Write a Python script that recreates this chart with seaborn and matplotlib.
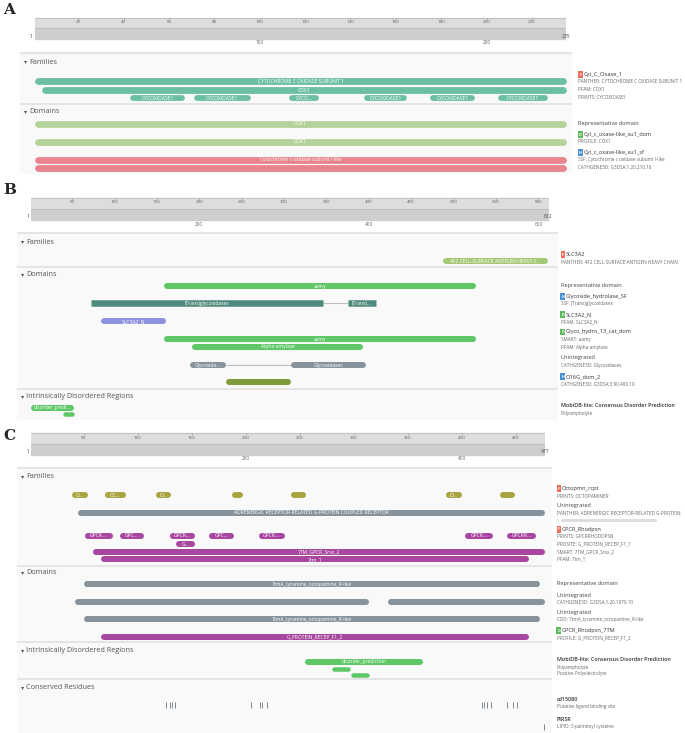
import matplotlib
matplotlib.use("Agg")
import matplotlib.pyplot as plt
from matplotlib.patches import Rectangle
import seaborn as sns

# ---------------- data ----------------
# panel A: 235 aa protein
a_length = 235
a_ruler_top = list(range(20, 221, 20))
a_ruler_bottom = [100, 200]
a_panther = [(1, 235, "CYTOCHROME C OXIDASE SUBUNIT 1")]
a_pfam = [(4, 235, "COX1")]
a_prints = [(43, 67, "CYCOXIDASE1"), (71, 96, "CYCOXIDASE1"), (113, 126, "CYCO..."),
            (146, 165, "CYCOXIDASE1"), (175, 195, "CYCOXIDASE1"), (205, 227, "CYCOXIDASE1")]
a_rep = [(1, 235, "COX1")]
a_profile = [(1, 235, "COX1")]
a_ssf = [(1, 235, "Cytochrome c oxidase subunit I-like")]
a_cath = [(1, 235, "")]
a_legend = [("F", "Cyt_C_Oxase_1"), ("", "PANTHER: CYTOCHROME C OXIDASE SUBUNIT 1"),
            ("", "PFAM: COX1"), ("", "PRINTS: CYCOXIDASEI"),
            ("T", "Representative domain"),
            ("D", "Cyt_c_oxase-like_su1_dom"), ("", "PROFILE: COX1"),
            ("H", "Cyt_c_oxase-like_su1_sf"), ("", "SSF: Cytochrome c oxidase subunit I-like"),
            ("", "CATHGENE3D: G3DSA:1.20.210.10")]

# panel B: 612 aa protein
b_length = 612
b_ruler_top = list(range(50, 601, 50))
b_ruler_bottom = [200, 400, 600]
b_panther = [(487, 612, "4F2 CELL-SURFACE ANTIGEN HEAVY C...")]
b_rep = [(158, 526, "aamy")]
b_ssf = [(72, 346, "(Trans)glycosidases"), (375, 409, "(Trans)...")]
b_slc = [(84, 161, "SLC3A2_N")]
b_smart = [(158, 526, "aamy")]
b_pfam = [(192, 393, "Alpha-amylase")]
b_cath_glyc = [(189, 231, "Glycosida..."), (308, 397, "Glycosidases")]
b_cath_o16g = [(231, 308, "")]
b_disorder = [(1, 52, "disorder_predi...")]
b_polyampholyte = [(39, 52, "")]
b_legend = [("F", "SLC3A2"), ("", "PANTHER: 4F2 CELL-SURFACE ANTIGEN HEAVY CHAIN"),
            ("T", "Representative domain"),
            ("H", "Glycoside_hydrolase_SF"), ("", "SSF: (Trans)glycosidases"),
            ("D", "SLC3A2_N"), ("", "PFAM: SLC3A2_N"),
            ("D", "Glyco_hydro_13_cat_dom"), ("", "SMART: aamy"), ("", "PFAM: Alpha-amylase"),
            ("T", "Unintegrated"), ("", "CATHGENE3D: Glycosidases"),
            ("H", "O16G_dom_2"), ("", "CATHGENE3D: G3DSA:3.90.400.10"),
            ("B", "MobiDB-lite: Consensus Disorder Prediction"), ("", "Polyampholyte")]

# panel C: 477 aa protein
c_length = 477
c_ruler_top = list(range(50, 451, 50))
c_ruler_bottom = [200, 400]
c_octo = [(39, 54, "O..."), (70, 89, "OC..."), (117, 131, "O..."), (187, 198, ""),
          (242, 256, ""), (385, 400, "O..."), (435, 449, "")]
c_adrenergic = [(45, 477, "ADRENERGIC RECEPTOR-RELATED G-PROTEIN COUPLED RECEPTOR")]
c_gpcr_prints = [(51, 77, "GPCR..."), (84, 106, "GPC..."), (130, 153, "GPCR..."),
                 (166, 189, "GPC..."), (212, 236, "GPCR..."), (403, 429, "GPCR..."),
                 (442, 469, "GPCRR...")]
c_prosite = [(136, 153, "G...")]
c_smart = [(59, 477, "7TM_GPCR_Srsx_2")]
c_pfam = [(66, 462, "7tm_1")]
c_rep = [(50, 472, "7tmA_tyramine_octopamine_R-like")]
c_cath = [(42, 314, ""), (332, 477, "")]
c_cdd = [(50, 472, "7tmA_tyramine_octopamine_R-like")]
c_profile = [(66, 462, "G_PROTEIN_RECEP_F1_2")]
c_disorder = [(255, 364, "disorder_prediction")]
c_polyampholyte = [(280, 297, "")]
c_polyelectrolyte = [(297, 314, "")]
c_ligand_sites = [126, 130, 132, 135, 205, 213, 215, 220, 419, 421, 423, 427, 442, 447, 451]
c_palmitoyl_sites = [476]
c_legend = [("F", "Octopmn_rcpt"), ("", "PRINTS: OCTOPAMINER"),
            ("T", "Unintegrated"), ("", "PANTHER: ADRENERGIC RECEPTOR-RELATED G-PROTEIN"),
            ("F", "GPCR_Rhodpsn"), ("", "PRINTS: GPCRRHODOPSN"), ("", "PROSITE: G_PROTEIN_RECEP_F1_1"),
            ("", "SMART: 7TM_GPCR_Srsx_2"), ("", "PFAM: 7tm_1"),
            ("T", "Representative domain"),
            ("T", "Unintegrated"), ("", "CATHGENE3D: G3DSA:1.20.1070.10"),
            ("T", "Unintegrated"), ("", "CDD: 7tmA_tyramine_octopamine_R-like"),
            ("D", "GPCR_Rhodpsn_7TM"), ("", "PROFILE: G_PROTEIN_RECEP_F1_2"),
            ("B", "MobiDB-lite: Consensus Disorder Prediction"), ("", "Polyampholyte"),
            ("", "Positive Polyelectrolyte"),
            ("B", "cd15080"), ("", "Putative ligand binding site"),
            ("B", "PIRSR"), ("", "LIPID: S-palmitoyl cysteine")]

# ---------------- style ----------------
TEAL = "#6cbfa3"
LGREEN = "#b5d29a"
PINK = "#e9838d"
LOLIVE = "#a5c877"
GREEN = "#5dc865"
DTEAL = "#4e8a7c"
PERI = "#8e92de"
GRAY = "#87939c"
OLIVE = "#7e9d3a"
MUSTARD = "#a8a540"
PURPLE = "#a7479f"
BADGE = {"F": "#ec6c58", "D": "#5cb85c", "H": "#4a90d9"}

W, H = 685, 733
sns.set_theme(style="white")
plt.rcParams["font.family"] = ["Open Sans", "DejaVu Sans"]

fig = plt.figure(figsize=(W / 100, H / 100), dpi=100)
bg = fig.add_axes([0, 0, 1, 1])
bg.set_xlim(0, W)
bg.set_ylim(H, 0)
bg.axis("off")


def add_panel(x0, x1, top, bottom, length):
    ax = fig.add_axes([x0 / W, 1 - bottom / H, (x1 - x0) / W, (bottom - top) / H])
    ax.patch.set_alpha(0)
    ax.axis("off")
    return ax, (length - 1) / (x1 - x0)


def finish(ax, length, top, bottom):
    ax.set_xlim(1, length)
    ax.set_ylim(bottom, top)


def draw_track(ax, scale, y, segs, color, bar_px=6, square=False, link=False):
    lw = bar_px * 72 / 100
    inset = 0 if square else bar_px / 2 * scale
    if link:
        for (s0, e0, _), (s1, e1, _) in zip(segs[:-1], segs[1:]):
            ax.hlines(y, e0, s1, colors="#b9c0c5", linewidth=0.8, zorder=2, clip_on=False)
    for s, e, label in segs:
        a, b = s + inset, e - inset
        if b < a:
            a = b = (s + e) / 2
        ax.hlines(y, a, b, colors=color, linewidth=lw, zorder=3, clip_on=False,
                  capstyle="butt" if square else "round")
        if label:
            ax.text((s + e) / 2, y + 0.2, label, ha="center", va="center", fontsize=3.6,
                    color="white", zorder=4, clip_on=False)


def draw_ruler(ax, length, top_ticks, bottom_ticks, y0, y1, y2, ylab):
    ax.axhspan(y0, y1, color="#dddddd", zorder=1)
    ax.axhspan(y1, y2, color="#cecece", zorder=1)
    ax.hlines([y0, y1], 1, length, colors="#bdbdbd", lw=0.6, zorder=2)
    ax.vlines(top_ticks, y0, y0 + 1.8, colors="#999999", lw=0.5, zorder=2)
    for t in top_ticks:
        ax.text(t, y0 + 4.6, str(t), ha="center", va="center", fontsize=3.2, color="#666666")
    ax.text(0, ylab, "1", ha="right", va="center", fontsize=3.6, color="#444444")
    ax.text(length, ylab, str(length), ha="center", va="center", fontsize=3.6, color="#444444")
    for t in bottom_ticks:
        ax.text(t, y2 + 4, str(t), ha="center", va="center", fontsize=3.4, color="#666666")


def draw_frame(xl, xr, seps, bottom, headers):
    bg.add_patch(Rectangle((xl, seps[0]), xr - xl, bottom - seps[0], fc="#f9f9f9", ec="none"))
    bg.hlines(seps, xl, xr, colors="#e2e2e2", lw=1.3)
    for name, y in headers:
        bg.text(xl + 4, y, "\u25be", ha="left", va="center", fontsize=4.5, color="#555555")
        bg.text(xl + 9, y, name, ha="left", va="center", fontsize=5.2, color="#555555")


def draw_legend(x, entries, ys):
    for (kind, text), y in zip(entries, ys):
        if kind in BADGE:
            bg.text(x + 1.8, y, kind, ha="center", va="center", fontsize=2.8, color="white",
                    fontweight="bold",
                    bbox=dict(boxstyle="square,pad=0.3", fc=BADGE[kind], ec="none"))
            bg.text(x + 5, y, text, ha="left", va="center", fontsize=4.1, color="#333333")
        elif kind == "B":
            bg.text(x, y, text, ha="left", va="center", fontsize=3.9, color="#333333",
                    fontweight="semibold")
        elif kind == "T":
            bg.text(x, y, text, ha="left", va="center", fontsize=4.1, color="#444444")
        else:
            bg.text(x, y, text, ha="left", va="center", fontsize=3.3, color="#666666")


# ---------------- panel A ----------------
bg.text(3, 10, "A", fontsize=11, fontweight="bold", family="DejaVu Serif", va="center")
draw_frame(20, 572, [53.3, 103.7], 174, [("Families", 62), ("Domains", 111.5)])
ax, sc = add_panel(35, 566, 15, 175, a_length)
draw_ruler(ax, a_length, a_ruler_top, a_ruler_bottom, 17.7, 28.3, 39, 37)
draw_track(ax, sc, 81.3, a_panther, TEAL, bar_px=6.8)
draw_track(ax, sc, 89.8, a_pfam, TEAL, bar_px=6.8)
draw_track(ax, sc, 97.8, a_prints, TEAL, bar_px=5.8)
draw_track(ax, sc, 123.7, a_rep, LGREEN, bar_px=6.8)
draw_track(ax, sc, 141.7, a_profile, LGREEN, bar_px=6.8)
draw_track(ax, sc, 159.7, a_ssf, PINK, bar_px=6.8)
draw_track(ax, sc, 167.7, a_cath, PINK, bar_px=6.8)
finish(ax, a_length, 15, 175)
draw_legend(578.5, a_legend, [74.5, 81.8, 89.8, 97.8, 123.7, 134.5, 141.7, 152.5, 159.7, 167.7])

# ---------------- panel B ----------------
bg.text(3, 190, "B", fontsize=11, fontweight="bold", family="DejaVu Serif", va="center")
draw_frame(17, 558, [233.3, 266.7, 389], 420,
           [("Families", 242), ("Domains", 274.7), ("Intrinsically Disordered Regions", 396.3)])
ax, sc = add_panel(30.6, 548.5, 195, 420, b_length)
draw_ruler(ax, b_length, b_ruler_top, b_ruler_bottom, 197.7, 209.3, 220, 216.5)
draw_track(ax, sc, 261, b_panther, LOLIVE)
draw_track(ax, sc, 286, b_rep, GREEN)
draw_track(ax, sc, 303.3, b_ssf, DTEAL, bar_px=6.5, square=True, link=True)
draw_track(ax, sc, 321.3, b_slc, PERI)
draw_track(ax, sc, 339, b_smart, GREEN)
draw_track(ax, sc, 346.7, b_pfam, GREEN)
draw_track(ax, sc, 365, b_cath_glyc, GRAY, link=True)
draw_track(ax, sc, 382.3, b_cath_o16g, OLIVE)
draw_track(ax, sc, 407.7, b_disorder, GREEN)
draw_track(ax, sc, 414.3, b_polyampholyte, GREEN, bar_px=4.5)
finish(ax, b_length, 195, 420)
draw_legend(561, b_legend, [254.5, 262, 286, 296.5, 304, 314.5, 322, 332, 339.5, 347, 358,
                            365.3, 376.5, 384, 405.5, 413])

# ---------------- panel C ----------------
bg.text(3, 436, "C", fontsize=11, fontweight="bold", family="DejaVu Serif", va="center")
draw_frame(17, 552, [468.3, 565.7, 642.3, 679.3], 733,
           [("Families", 476.3), ("Domains", 572.7), ("Intrinsically Disordered Regions", 650.3),
            ("Conserved Residues", 687.3)])
ax, sc = add_panel(30.6, 545, 430, 733, c_length)
draw_ruler(ax, c_length, c_ruler_top, c_ruler_bottom, 433.3, 444.3, 454.7, 451.7)
draw_track(ax, sc, 495.3, c_octo, MUSTARD)
draw_track(ax, sc, 512.7, c_adrenergic, GRAY)
draw_track(ax, sc, 535.7, c_gpcr_prints, PURPLE)
draw_track(ax, sc, 543.8, c_prosite, PURPLE)
draw_track(ax, sc, 551.7, c_smart, PURPLE)
draw_track(ax, sc, 559.3, c_pfam, PURPLE)
draw_track(ax, sc, 584, c_rep, GRAY)
draw_track(ax, sc, 601.7, c_cath, GRAY)
draw_track(ax, sc, 619, c_cdd, GRAY)
draw_track(ax, sc, 636.7, c_profile, PURPLE)
draw_track(ax, sc, 661.7, c_disorder, GREEN)
draw_track(ax, sc, 668.7, c_polyampholyte, GREEN, bar_px=4.5)
draw_track(ax, sc, 675, c_polyelectrolyte, GREEN, bar_px=4.5)
sns.scatterplot(x=c_ligand_sites, y=[705.3] * len(c_ligand_sites), marker="|", s=14,
                color="#7d8890", linewidth=0.7, ax=ax, legend=False, clip_on=False)
sns.scatterplot(x=c_palmitoyl_sites, y=[726.5] * len(c_palmitoyl_sites), marker="|", s=14,
                color="#7d8890", linewidth=0.7, ax=ax, legend=False, clip_on=False)
ax.axis("off")
finish(ax, c_length, 430, 733)
draw_legend(557, c_legend, [488.5, 496, 506, 513.5, 529.5, 536.5, 544, 551.7, 559.3, 584,
                            595, 602.5, 612.5, 620, 630.5, 638, 659.7, 667, 674,
                            699.3, 706.7, 719.7, 726.7])
# the little scroll bar under the truncated PANTHER name
bg.hlines(519.8, 562, 655, colors="#dddddd", lw=2.2, capstyle="round")
bg.text(557, 519.8, "\u2039", ha="left", va="center", fontsize=4, color="#aaaaaa")

fig.savefig("out.png", dpi=100)
